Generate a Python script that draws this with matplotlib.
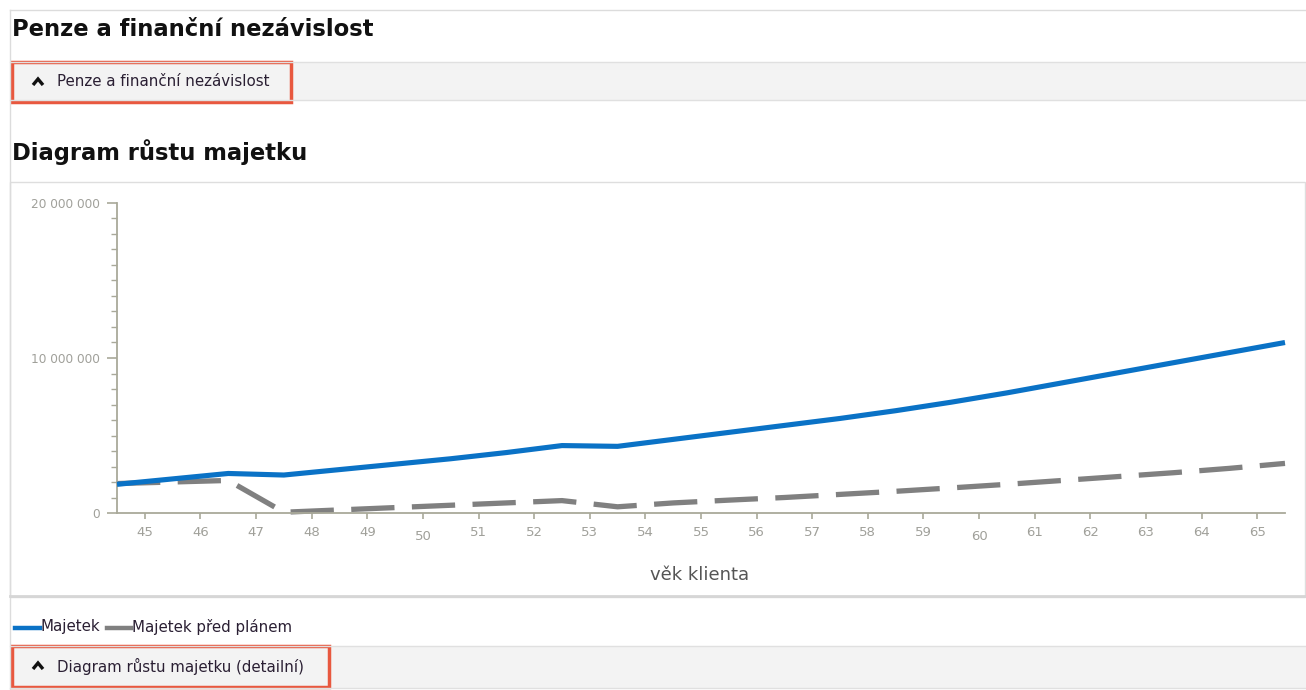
import matplotlib
matplotlib.use("Agg")
import matplotlib.pyplot as plt
from matplotlib.patches import Rectangle
from matplotlib.lines import Line2D
from matplotlib.ticker import FixedLocator, FuncFormatter

# data (ages at half-year steps, values in CZK)
vek = [44.5, 45.5, 46.5, 47.5, 48.5, 49.5, 50.5, 51.5, 52.5, 53.5, 54.5,
       55.5, 56.5, 57.5, 58.5, 59.5, 60.5, 61.5, 62.5, 63.5, 64.5, 65.5]
majetek = [1.85, 2.2, 2.55, 2.45, 2.8, 3.15, 3.5, 3.9, 4.35, 4.3, 4.75,
           5.2, 5.65, 6.1, 6.6, 7.15, 7.75, 8.4, 9.05, 9.7, 10.35, 11.0]
majetek_pred = [1.9, 2.0, 2.1, 0.05, 0.2, 0.35, 0.5, 0.65, 0.8, 0.4, 0.65,
                0.83, 1.0, 1.2, 1.4, 1.62, 1.85, 2.1, 2.35, 2.6, 2.88, 3.2]
majetek = [v * 1e6 for v in majetek]
majetek_pred = [v * 1e6 for v in majetek_pred]
roky = list(range(45, 66))

W, H = 1306, 690
fig = plt.figure(figsize=(W / 100, H / 100), dpi=100)
fig.patch.set_facecolor("white")

def fx(x):
    return x / W

def fy(y):
    return 1 - y / H

def rect(x0, y0, x1, y1, **kw):
    fig.patches.append(Rectangle((fx(x0), fy(y1)), fx(x1) - fx(x0), fy(y0) - fy(y1),
                                 transform=fig.transFigure, zorder=-5, **kw))

def hline(x0, x1, y, c="#dcdcdc", lw=1):
    fig.lines.append(Line2D([fx(x0), fx(x1)], [fy(y), fy(y)], transform=fig.transFigure,
                            color=c, lw=lw, zorder=-4))

def vline(x, y0, y1, c="#dcdcdc", lw=1):
    fig.lines.append(Line2D([fx(x), fx(x)], [fy(y0), fy(y1)], transform=fig.transFigure,
                            color=c, lw=lw, zorder=-4))

def chevron(x, y):
    fig.lines.append(Line2D([fx(x - 5), fx(x), fx(x + 5)], [fy(y + 3), fy(y - 3), fy(y + 3)],
                            transform=fig.transFigure, color="#111111", lw=2.4,
                            solid_capstyle="butt", solid_joinstyle="miter"))

# page frame
hline(10, 1306, 10)
vline(10, 10, 690)

fig.text(fx(12), fy(30), "Penze a finanční nezávislost", fontsize=16.3, fontweight="bold",
         color="#111111", va="center", ha="left")

# collapsible band 1
rect(10, 62, 1306, 100, facecolor="#f3f3f3", edgecolor="none")
hline(10, 1306, 62, "#e0e0e0")
hline(10, 1306, 100, "#e0e0e0")
rect(12, 62, 291, 102, facecolor="none", edgecolor="#e8583f", lw=2.5)
chevron(38, 82)
fig.text(fx(57), fy(82), "Penze a finanční nezávislost", fontsize=10.8, color="#2a1f33",
         va="center", ha="left")

fig.text(fx(12), fy(152), "Diagram růstu majetku", fontsize=16.3, fontweight="bold",
         color="#111111", va="center", ha="left")

# chart box
rect(10, 182, 1305, 597, facecolor="white", edgecolor="#dedede", lw=1)
hline(10, 1305, 596, "#d6d6d6", 2)

ax = fig.add_axes([fx(117), fy(513), fx(1285) - fx(117), fy(203) - fy(513)])
ax.set_zorder(5)
ax.patch.set_alpha(0)
ax.plot(vek, majetek, color="#0a72c6", lw=3.7, solid_capstyle="butt", zorder=3, clip_on=False)
ax.plot(vek, majetek_pred, color="#808080", lw=3.8, dashes=(8.2, 3.3), zorder=2, clip_on=False)
ax.set_xlim(44.5, 65.5)
ax.set_ylim(0, 20e6)

axc = "#a9a99a"
for s in ["top", "right"]:
    ax.spines[s].set_visible(False)
ax.spines["left"].set_color(axc)
ax.spines["bottom"].set_color(axc)
ax.spines["left"].set_linewidth(1.3)
ax.spines["bottom"].set_linewidth(1.3)

ax.yaxis.set_major_locator(FixedLocator([0, 10e6, 20e6]))
ax.yaxis.set_minor_locator(FixedLocator([i * 1e6 for i in range(21)]))
ax.yaxis.set_major_formatter(FuncFormatter(lambda v, p: f"{int(v):,}".replace(",", " ")))
ax.tick_params(axis="y", which="major", length=7, width=1.2, color=axc,
               labelsize=8.7, labelcolor="#a0a09a", pad=5)
ax.tick_params(axis="y", which="minor", length=4, width=1, color=axc)

ax.set_xticks(roky)
ax.set_xticklabels([str(r) for r in roky])
ax.tick_params(axis="x", which="major", length=4, width=1.2, color=axc,
               labelsize=9.5, labelcolor="#a0a09a", pad=5)
for t, r in zip(ax.xaxis.get_major_ticks(), roky):
    if r % 10 == 0:
        t.tick1line.set_markersize(8)
        t.set_pad(8)

fig.text(fx(700), fy(575), "věk klienta", fontsize=13, color="#555555", ha="center", va="center")

# legend
fig.lines.append(Line2D([fx(15), fx(40)], [fy(628), fy(628)], transform=fig.transFigure,
                        color="#0a72c6", lw=3.2))
fig.text(fx(41), fy(627), "Majetek", fontsize=10.8, color="#2a1f33", va="center", ha="left")
fig.lines.append(Line2D([fx(107), fx(131)], [fy(628), fy(628)], transform=fig.transFigure,
                        color="#808080", lw=3.2))
fig.text(fx(132), fy(627), "Majetek před plánem", fontsize=10.8, color="#2a1f33", va="center", ha="left")

# collapsible band 2
rect(10, 646, 1306, 688, facecolor="#f3f3f3", edgecolor="none")
hline(10, 1306, 646, "#e0e0e0")
hline(10, 1306, 688, "#e0e0e0")
rect(12, 646, 329, 687, facecolor="none", edgecolor="#e8583f", lw=2.5)
chevron(38, 666)
fig.text(fx(57), fy(666), "Diagram růstu majetku (detailní)", fontsize=10.8, color="#2a1f33",
         va="center", ha="left")

fig.savefig("out.png", dpi=100)
